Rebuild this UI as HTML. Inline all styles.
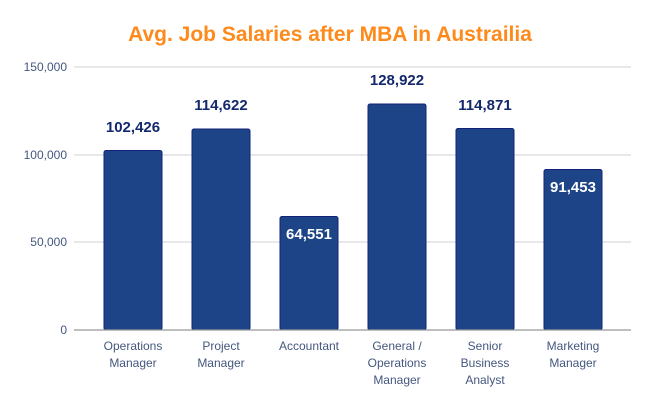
<!DOCTYPE html>
<html><head><meta charset="utf-8"><style>
body{margin:0;background:#fff;}
svg{display:block;font-family:"Liberation Sans",Arial,sans-serif;}
</style></head><body>
<svg width="650" height="402" viewBox="0 0 650 402">
<text x="330" y="41" text-anchor="middle" font-size="21" font-weight="bold" fill="#ff8a1c">Avg. Job Salaries after MBA in Austrailia</text>
<g stroke="#d9d9d9" stroke-width="1.3">
<line x1="74" y1="67" x2="631" y2="67"/>
<line x1="74" y1="155" x2="631" y2="155"/>
<line x1="74" y1="242" x2="631" y2="242"/>
</g>
<g font-size="12" fill="#44577f" text-anchor="end">
<text x="67" y="71">150,000</text>
<text x="67" y="159">100,000</text>
<text x="67" y="246">50,000</text>
<text x="67" y="334">0</text>
</g>
<g fill="#1d4486" stroke="#13237a" stroke-width="1">
<rect x="104" y="150.5" width="58" height="179.5" rx="2"/>
<rect x="192" y="129" width="58" height="201" rx="2"/>
<rect x="280" y="216.5" width="58" height="113.5" rx="2"/>
<rect x="368" y="104" width="58" height="226" rx="2"/>
<rect x="456" y="128.5" width="58" height="201.5" rx="2"/>
<rect x="544" y="169.5" width="58" height="160.5" rx="2"/>
</g>
<line x1="74" y1="330" x2="631" y2="330" stroke="#999" stroke-width="1.3"/>
<g font-size="15" font-weight="bold" text-anchor="middle" fill="#14286e">
<text x="133" y="132">102,426</text>
<text x="221" y="110">114,622</text>
<text x="309" y="239" fill="#fff">64,551</text>
<text x="397" y="85">128,922</text>
<text x="485" y="110">114,871</text>
<text x="573" y="192" fill="#fff">91,453</text>
</g>
<g font-size="12" fill="#44577f" text-anchor="middle">
<text x="133" y="350">Operations</text><text x="133" y="367">Manager</text>
<text x="221" y="350">Project</text><text x="221" y="367">Manager</text>
<text x="309" y="350">Accountant</text>
<text x="397" y="350">General /</text><text x="397" y="367">Operations</text><text x="397" y="384">Manager</text>
<text x="485" y="350">Senior</text><text x="485" y="367">Business</text><text x="485" y="384">Analyst</text>
<text x="573" y="350">Marketing</text><text x="573" y="367">Manager</text>
</g>
</svg>
</body></html>
